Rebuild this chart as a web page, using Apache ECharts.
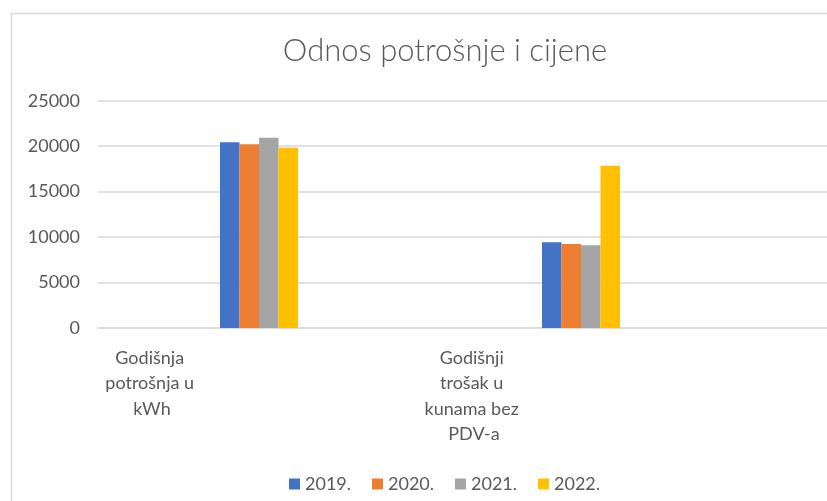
<!DOCTYPE html>
<html>
<head>
<meta charset="utf-8">
<script src="https://cdn.jsdelivr.net/npm/echarts@6/dist/echarts.min.js"></script>
<style>
html,body{margin:0;padding:0;background:#fff;overflow:hidden;width:827px;height:501px;}
#c{width:1100px;height:501px;}
</style>
</head>
<body>
<div id="c"></div>
<script>
const categories = ["Godišnja potrošnja u kWh", "Godišnji trošak u kunama bez PDV-a"];
const seriesNames = ["2019.", "2020.", "2021.", "2022."];
const v2019 = [20420, 9420];
const v2020 = [20200, 9240];
const v2021 = [20930, 9090];
const v2022 = [19830, 17850];
const yTicks = [0, 5000, 10000, 15000, 20000, 25000];
const colors = ["#4472C4", "#ED7D31", "#A5A5A5", "#FFC000"];

const FONT = "Lato";
const TXT = "#595959";
const chart = echarts.init(document.getElementById('c'));
const values = [v2019, v2020, v2021, v2022];
chart.setOption({
  animation: false,
  color: colors,
  title: {
    text: "Odnos potrošnje i cijene",
    left: 440, textAlign: 'center', top: 30,
    textStyle: {fontFamily: FONT, fontSize: 31, fontWeight: 300, color: TXT}
  },
  graphic: [{
    type: 'rect', left: 9, top: 11, shape: {width: 1200, height: 600},
    style: {fill: 'none', stroke: '#D9D9D9', lineWidth: 1.5}, silent: true
  }],
  legend: {
    data: seriesNames, left: 284, top: 470,
    itemWidth: 11, itemHeight: 11, itemGap: 21,
    icon: 'rect',
    textStyle: {fontFamily: FONT, fontSize: 18, color: TXT}
  },
  grid: {left: 98, top: 100.7, height: 227.3, right: 36, containLabel: false},
  xAxis: {
    type: 'category', data: categories, max: 2,
    axisLine: {lineStyle: {color: '#D9D9D9', width: 1.5}},
    axisTick: {show: false},
    axisLabel: {
      fontFamily: FONT, fontSize: 18, color: TXT, lineHeight: 25.5,
      width: 108, overflow: 'break', align: 'center',
      padding: [0, 214, 0, 0], margin: 17, interval: 0
    }
  },
  yAxis: {
    type: 'value', min: yTicks[0], max: yTicks[yTicks.length-1], interval: 5000,
    axisLine: {show: false}, axisTick: {show: false},
    splitLine: {lineStyle: {color: '#D9D9D9', width: 1.5}},
    axisLabel: {fontFamily: FONT, fontSize: 18, color: TXT, margin: 18, formatter: v => String(v)}
  },
  series: seriesNames.map((n, i) => ({
    name: n, type: 'bar', data: values[i], barWidth: 19.5, barGap: '0%'
  }))
});
</script>
</body>
</html>
